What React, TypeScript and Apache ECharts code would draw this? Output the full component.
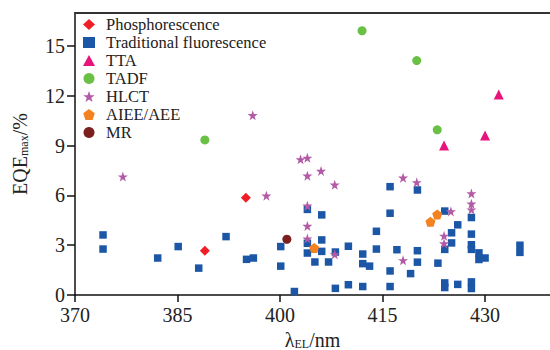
import React, { useEffect, useRef } from "react";
import * as echarts from "echarts";

const xTicks = [370, 385, 400, 415, 430];
const yTicks = [0, 3, 6, 9, 12, 15];

const seriesNames = [
  "Phosphorescence",
  "Traditional fluorescence",
  "TTA",
  "TADF",
  "HLCT",
  "AIEE/AEE",
  "MR",
];

const phosphorescence = [
  [389, 2.67],
  [395, 5.86],
];

const traditional = [
  [374.1, 3.62], [374.1, 2.77], [382.1, 2.23], [385.1, 2.92], [388.1, 1.62], [392.1, 3.52],
  [395.1, 2.15], [396.1, 2.23], [400.1, 2.92], [400.1, 1.74], [402.1, 0.21],
  [404, 5.16], [404, 3.12], [404, 2.53], [405.1, 1.99],
  [406.1, 4.83], [406.1, 3.32], [406.1, 2.63], [407.1, 1.99],
  [408.1, 2.59], [408.1, 0.4], [410, 2.94], [410, 0.62],
  [412.1, 2.47], [412.1, 1.89], [412.1, 0.51], [413.1, 1.74],
  [414.1, 3.84], [414.1, 2.77],
  [416.1, 6.53], [416.1, 4.93], [416.1, 1.45], [416.1, 0.51], [417.1, 2.73],
  [419.1, 1.29], [420.1, 6.33], [420.1, 2.67], [420.1, 1.98],
  [423.1, 1.92], [424.1, 5.06], [424.1, 2.75], [424.1, 0.73], [424.1, 0.45],
  [425.1, 3.75], [425.1, 3.14], [426, 4.23], [426, 0.64],
  [428, 4.67], [428, 3.67], [428, 3.03], [428, 2.75], [428, 0.79], [428, 0.39],
  [429.1, 2.54], [429.1, 2.14], [430, 2.23],
  [435.1, 3.0], [435.1, 2.57],
];

const tta = [
  [424, 9.01],
  [430, 9.61],
  [432, 12.08],
];

const tadf = [
  [389, 9.35],
  [412, 15.93],
  [420, 14.13],
  [423, 9.96],
];

const hlct = [
  [377, 7.14], [396, 10.84], [398, 5.99], [403, 8.18], [404, 8.27], [404, 7.19],
  [404, 5.38], [404, 4.16], [404, 3.4], [406, 7.48], [408, 6.65], [408, 2.45],
  [418, 7.07], [418, 2.09], [420, 6.79], [424, 3.57], [424, 3.11], [425, 5.04],
  [428, 6.12], [428, 5.5], [428, 5.15],
];

const aiee = [
  [405, 2.84],
  [422, 4.41],
  [423, 4.86],
];

const mr = [[401, 3.36]];

const STAR =
  "path://M50,0 L61.8,35.1 L98.1,35.1 L68.8,56.8 L79.4,91 L50,70 L20.6,91 L31.2,56.8 L1.9,35.1 L38.2,35.1 Z";
const PENTAGON = "path://M50,0 L97.6,34.5 L79.4,90.5 L20.6,90.5 L2.4,34.5 Z";

const FONT = "Liberation Serif, serif";

export default function App() {
  const ref = useRef<HTMLDivElement>(null);

  useEffect(() => {
    if (!ref.current) return;
    const chart = echarts.init(ref.current, undefined, { renderer: "svg" });

    const mk = (name: string, data: number[][], symbol: string, size: number, color: string) => ({
      name,
      type: "scatter",
      data,
      symbol,
      symbolSize: size,
      itemStyle: { color, opacity: 1 },
      emphasis: { disabled: true },
    });

    const xMin = 370;
    const xMax = 439.5;

    chart.setOption({
      animation: false,
      backgroundColor: "#fff",
      textStyle: { fontFamily: FONT },
      grid: { left: 75, right: 0, top: 13, bottom: 55, containLabel: false, outerBoundsMode: "none" },
      legend: {
        orient: "vertical",
        left: 83,
        top: 16,
        padding: 0,
        itemWidth: 12,
        itemHeight: 11,
        itemGap: 1,
        data: seriesNames,
        textStyle: {
          fontFamily: FONT,
          fontSize: 16.5,
          lineHeight: 16,
          color: "#222",
          padding: [0, 0, 0, 6],
        },
      },
      xAxis: [
        {
          type: "value",
          min: xMin,
          max: xMax,
          interval: 15,
          name: "{a|λ}{s|EL}{a|/nm}",
          nameLocation: "middle",
          nameGap: 35,
          nameTextStyle: {
            rich: {
              a: { fontFamily: FONT, fontSize: 20, color: "#222" },
              s: { fontFamily: FONT, fontSize: 12, color: "#222", verticalAlign: "bottom", padding: [8, 0, 0, 0] },
            },
          },
          axisLine: { onZero: false, lineStyle: { color: "#111", width: 1.5 } },
          axisTick: { inside: false, length: 7, lineStyle: { color: "#111", width: 1.5 }, customValues: xTicks },
          axisLabel: { customValues: xTicks, fontFamily: FONT, fontSize: 20, color: "#222", margin: 10 },
          splitLine: { show: false },
        },
        {
          type: "value",
          position: "top",
          min: xMin,
          max: xMax,
          axisLine: { show: true, onZero: false, lineStyle: { color: "#333", width: 2 } },
          axisTick: { show: false },
          axisLabel: { show: false },
          splitLine: { show: false },
        },
      ],
      yAxis: {
        type: "value",
        min: 0,
        max: 17,
        interval: 3,
        name: "{a|EQE}{s|max}{a|/%}",
        nameLocation: "middle",
        nameGap: 45,
        nameRotate: 90,
        nameTextStyle: {
          rich: {
            a: { fontFamily: FONT, fontSize: 20, color: "#222" },
            s: { fontFamily: FONT, fontSize: 12, color: "#222", verticalAlign: "bottom", padding: [8, 0, 0, 0] },
          },
        },
        axisLine: { show: true, onZero: false, lineStyle: { color: "#111", width: 1.5 } },
        axisTick: { show: true, inside: false, length: 8, lineStyle: { color: "#111", width: 1.5 }, customValues: yTicks },
        axisLabel: { customValues: yTicks, fontFamily: FONT, fontSize: 20, color: "#222", margin: 10 },
        splitLine: { show: false },
      },
      series: [
        mk(seriesNames[1], traditional, "rect", 7.5, "#1c57a7"),
        mk(seriesNames[4], hlct, STAR, 10, "#b35aa6"),
        mk(seriesNames[0], phosphorescence, "diamond", 10, "#f01f27"),
        mk(seriesNames[2], tta, "triangle", 10, "#e8137b"),
        mk(seriesNames[3], tadf, "circle", 9, "#6abf45"),
        mk(seriesNames[5], aiee, PENTAGON, 10, "#f58220"),
        mk(seriesNames[6], mr, "circle", 9, "#7b1f1f"),
      ],
    });

    return () => chart.dispose();
  }, []);

  return <div ref={ref} style={{ width: 550, height: 350, position: "absolute", left: 0, top: 0 }} />;
}
